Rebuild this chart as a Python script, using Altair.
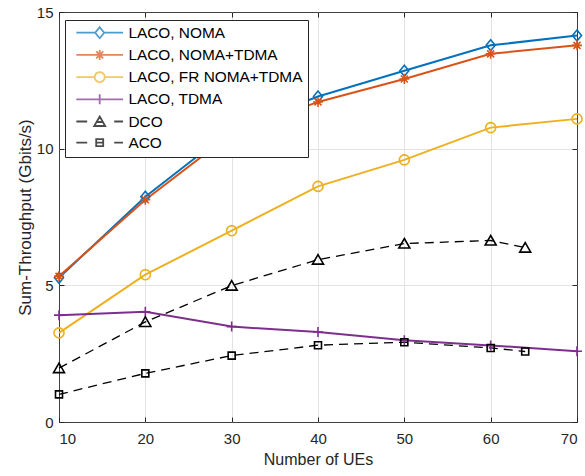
import math
import altair as alt
import pandas as pd

# ---------------- data ----------------
series = ["LACO, NOMA", "LACO, NOMA+TDMA", "LACO, FR NOMA+TDMA", "LACO, TDMA", "DCO", "ACO"]
colors = ["#0072BD", "#D95319", "#EDB120", "#7E2F8E", "#000000", "#000000"]

x_laco = [10, 20, 30, 40, 50, 60, 70]
laco_noma = [5.28, 8.24, 10.70, 11.91, 12.85, 13.78, 14.14]
laco_noma_tdma = [5.33, 8.13, 10.55, 11.71, 12.55, 13.47, 13.78]
laco_fr = [3.26, 5.39, 7.00, 8.62, 9.59, 10.77, 11.09]
laco_tdma = [3.91, 4.03, 3.49, 3.29, 2.99, 2.80, 2.59]

x_base = [10, 20, 30, 40, 50, 60, 64]
dco = [1.97, 3.66, 4.99, 5.94, 6.53, 6.64, 6.38]
aco = [1.01, 1.78, 2.43, 2.81, 2.92, 2.71, 2.58]

x_ticks = [10, 20, 30, 40, 50, 60, 70]
y_ticks = [0, 5, 10, 15]

rows = []
for name, xs, ys in [
    (series[0], x_laco, laco_noma),
    (series[1], x_laco, laco_noma_tdma),
    (series[2], x_laco, laco_fr),
    (series[3], x_laco, laco_tdma),
    (series[4], x_base, dco),
    (series[5], x_base, aco),
]:
    for xv, yv in zip(xs, ys):
        rows.append({"series": name, "x": xv, "y": yv})
df = pd.DataFrame(rows)

# ---------------- marker shapes (unit paths, size 100 -> 5 px per unit) ----------------
def poly_circle(r, n=20):
    pts = [(r * math.cos(2 * math.pi * i / n), r * math.sin(2 * math.pi * i / n)) for i in range(n)]
    return "M" + "L".join(f"{a:.3f},{b:.3f}" for a, b in pts) + "Z"

m_diamond = "M0,-1.1L0.9,0L0,1.1L-0.9,0Z"
m_ast = "M0,-1L0,1M-1,0L1,0M-0.7,-0.7L0.7,0.7M-0.7,0.7L0.7,-0.7"
m_circle = poly_circle(1.0)
m_plus = "M0,-1L0,1M-1,0L1,0"
m_tri = "M0,-1L1.1,0.9L-1.1,0.9Z"
m_square = "M-0.7,-0.7L0.7,-0.7L0.7,0.7L-0.7,0.7Z"
marker_paths = [m_diamond, m_ast, m_circle, m_plus, m_tri, m_square]

L = 4.67
legend_paths = [
    f"M-{L},0L-0.9,0M0.9,0L{L},0" + m_diamond,
    f"M-{L},0L{L},0" + m_ast,
    f"M-{L},0L-1,0M1,0L{L},0" + m_circle,
    f"M-{L},0L{L},0" + m_plus,
    f"M-{L},0L-2.5,0M2.9,0L{L},0M-0.55,0.1L0.55,0.1" + m_tri,
    f"M-{L},0L-2.5,0M2.9,0L{L},0M-0.7,0L0.7,0" + m_square,
]

W, H = 518, 410
FONT = "Liberation Sans"
TXT = "#262626"

def xs_():
    return alt.Scale(domain=[10, 70], nice=False, zero=False)

def ys_():
    return alt.Scale(domain=[0, 15], nice=False, zero=False)

def cs_():
    return alt.Scale(domain=series, range=colors)

base = alt.Chart(df)
empty = base.transform_filter("datum.x < 0")

# main axes: labels and titles
solid = base.transform_filter(
    alt.FieldOneOfPredicate(field="series", oneOf=series[:4])
).mark_line(strokeWidth=2).encode(
    x=alt.X("x:Q", scale=xs_(), axis=alt.Axis(
        orient="bottom", values=x_ticks, title="Number of UEs", grid=False, ticks=False,
        domain=False, labelFontSize=15, labelFont=FONT, labelColor=TXT, labelPadding=9,
        titleFontSize=16, titleFont=FONT, titleColor=TXT, titleFontWeight="normal",
        titlePadding=5)),
    y=alt.Y("y:Q", scale=ys_(), axis=alt.Axis(
        orient="left", values=y_ticks, title="Sum-Throughput (Gbits/s)", grid=False, ticks=False,
        domain=False, labelFontSize=15, labelFont=FONT, labelColor=TXT, labelPadding=6,
        titleFontSize=17, titleFont=FONT, titleColor=TXT, titleFontWeight="normal",
        titlePadding=2)),
    color=alt.Color("series:N", scale=cs_(), legend=None),
)

dashed = base.transform_filter(
    alt.FieldOneOfPredicate(field="series", oneOf=series[4:])
).mark_line(strokeWidth=1.3, strokeDash=[9, 6]).encode(
    x=alt.X("x:Q", scale=xs_(), axis=None),
    y=alt.Y("y:Q", scale=ys_(), axis=None),
    color=alt.Color("series:N", scale=cs_(), legend=None),
)

points = base.mark_point(filled=False, strokeWidth=1.6, size=100, opacity=1).encode(
    x=alt.X("x:Q", scale=xs_(), axis=None),
    y=alt.Y("y:Q", scale=ys_(), axis=None),
    color=alt.Color("series:N", scale=cs_(), legend=None),
    shape=alt.Shape("series:N", scale=alt.Scale(domain=series, range=marker_paths), legend=None),
)

# legend layer + grid axes (no data drawn)
legend_layer = empty.mark_point(filled=False, strokeWidth=1.6, size=100).encode(
    x=alt.X("x:Q", scale=xs_(), axis=alt.Axis(
        orient="bottom", values=x_ticks[1:-1], grid=True, gridColor="#e3e3e3", gridWidth=1,
        ticks=False, labels=False, domain=False, title=None)),
    y=alt.Y("y:Q", scale=ys_(), axis=alt.Axis(
        orient="left", values=y_ticks[1:-1], grid=True, gridColor="#e3e3e3", gridWidth=1,
        ticks=False, labels=False, domain=False, title=None)),
    color=alt.Color("series:N", scale=cs_(), legend=alt.Legend(title=None)),
    shape=alt.Shape("series:N", scale=alt.Scale(domain=series, range=legend_paths),
                    legend=alt.Legend(title=None)),
)

def tick_axis(orient, vals):
    return alt.Axis(orient=orient, values=vals, grid=False, labels=False, domain=False,
                    ticks=True, tickSize=5, tickColor=TXT, tickWidth=1, offset=-5, title=None)

ticks_bl = empty.mark_point().encode(
    x=alt.X("x:Q", scale=xs_(), axis=tick_axis("bottom", x_ticks)),
    y=alt.Y("y:Q", scale=ys_(), axis=tick_axis("left", y_ticks)),
)
ticks_tr = empty.mark_point().encode(
    x=alt.X("x:Q", scale=xs_(), axis=tick_axis("top", x_ticks)),
    y=alt.Y("y:Q", scale=ys_(), axis=tick_axis("right", y_ticks)),
)

chart = alt.layer(
    legend_layer, ticks_bl, ticks_tr, solid, dashed, points
).resolve_scale(
    x="independent", y="independent", color="independent", shape="independent"
).properties(
    width=W, height=H,
    autosize=alt.AutoSizeParams(type="none"),
    padding={"left": 59, "top": 12, "right": 8, "bottom": 54},
    background="white",
).configure_view(
    stroke="#404040", strokeWidth=1
).configure_legend(
    orient="none", legendX=6, legendY=8,
    fillColor="white", strokeColor="#262626", padding=5,
    labelFont=FONT, labelFontSize=15.4, labelColor="#000000", labelLimit=400,
    symbolSize=100, symbolStrokeWidth=1.8, symbolOffset=22, labelOffset=21,
    rowPadding=4.2, symbolFillColor="transparent",
)

chart.save("out.html", embed_options={"renderer": "svg", "actions": False})
